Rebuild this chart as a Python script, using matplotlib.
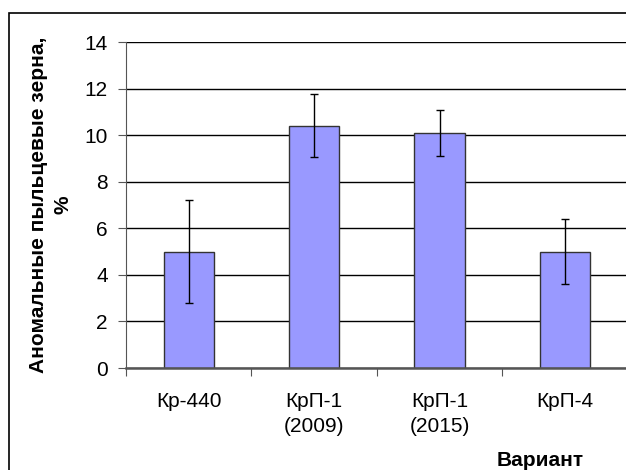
import matplotlib
matplotlib.use("Agg")
import matplotlib.pyplot as plt
from matplotlib.patches import Rectangle

plt.rcParams["font.family"] = ["Liberation Sans", "DejaVu Sans"]

categories = ["Кр-440", "КрП-1\n(2009)", "КрП-1\n(2015)", "КрП-4"]
values = [5.0, 10.4, 10.1, 5.0]
errors = [2.2, 1.35, 1.0, 1.38]
y_ticks = [0, 2, 4, 6, 8, 10, 12, 14]

fig = plt.figure(figsize=(6.26, 4.70), dpi=100)
fig.patch.set_facecolor("white")

# outer chart frame (runs off the right and bottom edges)
fig.patches.append(Rectangle((9 / 626, -0.1), 1.2, 1 - 13 / 470 + 0.1,
                             transform=fig.transFigure, fill=False,
                             edgecolor="black", linewidth=1.2, zorder=0))

ax = fig.add_axes([126 / 626, 1 - 368 / 470, 500 / 626, 326 / 470])
x = range(len(categories))
ax.bar(x, values, width=0.40, color="#9999ff", edgecolor="#333333",
       linewidth=1.0, zorder=2)
ax.errorbar(x, values, yerr=errors, fmt="none", ecolor="black",
            elinewidth=1.0, capsize=3, capthick=1.0, zorder=3)

ax.set_ylim(0, 14)
ax.set_xlim(-0.5, 3.487)
ax.set_yticks(y_ticks)
ax.set_yticklabels([str(v) for v in y_ticks], fontsize=15)
ax.yaxis.grid(True, color="black", linewidth=1.0, zorder=1)
ax.set_axisbelow(True)

ax.set_xticks([-0.5, 0.5, 1.5, 2.5])
ax.set_xticklabels([])
ax.set_xticks(list(x), minor=True)
ax.set_xticklabels(categories, minor=True, fontsize=15, linespacing=1.4)
ax.tick_params(axis="x", which="minor", length=0, pad=17)
ax.tick_params(axis="x", which="major", length=6, color="#555555", direction="out")
ax.tick_params(axis="y", length=6, pad=7, direction="out", color="#555555")

for s in ["top", "right"]:
    ax.spines[s].set_visible(False)
ax.spines["left"].set_color("#555555")
ax.spines["bottom"].set_color("#555555")
ax.spines["bottom"].set_linewidth(1.8)

ax.set_ylabel("Аномальные пыльцевые зерна,\n%", fontsize=15, fontweight="bold",
              linespacing=1.35, labelpad=9)
fig.text(540 / 626, 1 - 460 / 470, "Вариант", fontsize=15, fontweight="bold",
         ha="center", va="center")

fig.savefig("out.png", dpi=100)
